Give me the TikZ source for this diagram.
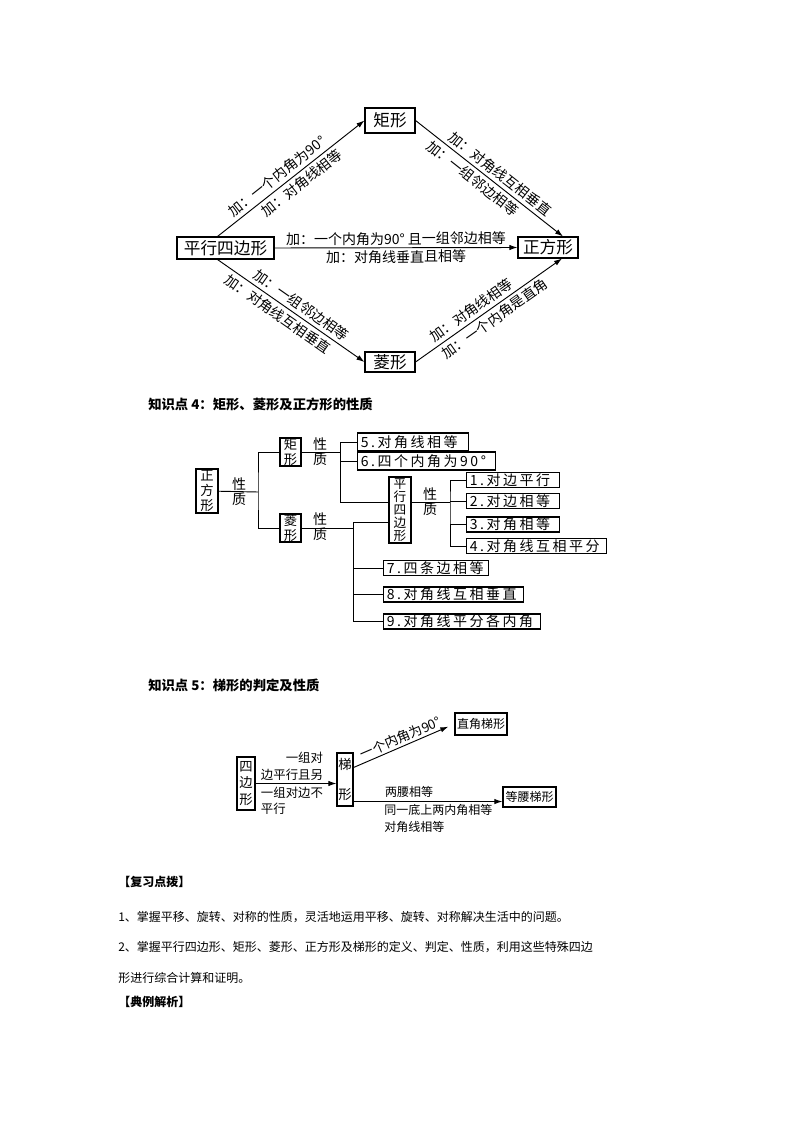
\documentclass[tikz,border=0pt]{standalone}
\usepackage{fontspec}
\setmainfont{Noto Sans CJK SC}
\newfontfamily\boxfont[LetterSpace=18]{Noto Sans CJK SC}
\usetikzlibrary{arrows.meta,calc,shadows}

\begin{document}
\begin{tikzpicture}[x=0.75pt, y=-0.75pt,
  arr/.style={-{Latex[length=6pt,width=4pt]}, line width=0.7pt},
  tree/.style={line width=0.7pt},
  frame/.style={draw, fill=white, line width=0.8pt, inner sep=0pt},
  topbox/.style={frame, font=\fontsize{12.5}{14}\selectfont},
  lbl/.style={font=\fontsize{10.5}{12}\selectfont, sloped, inner sep=2.5pt},
  shadowed/.style={drop shadow={shadow xshift=0.7pt, shadow yshift=-0.7pt, opacity=1, fill=black}},
  vbox/.style={frame, shadowed, align=center, font=\fontsize{10}{11}\selectfont},
  xz/.style={align=center, inner sep=0pt, font=\fontsize{10.5}{11.5}\selectfont},
  pbox/.style={frame, shadowed, anchor=west, align=left, inner xsep=2.5pt,
    font=\boxfont\fontsize{10.5}{11}\selectfont},
  title/.style={anchor=west, inner sep=0pt, font=\bfseries\fontsize{10}{12}\selectfont},
  body/.style={anchor=west, inner sep=0pt, font=\fontsize{9}{11}\selectfont}]

\useasboundingbox (0,0) rectangle (794,1123);

% ===== Part 1: from parallelogram to square =====
\node[topbox, minimum width=72.75pt, minimum height=16.5pt] (pq) at (225.5,248) {平行四边形};
\node[topbox, minimum width=37.5pt, minimum height=18.75pt] (jx) at (390,120.5) {矩形};
\node[topbox, minimum width=45pt, minimum height=15.75pt] (zf) at (548,247.5) {正方形};
\node[topbox, minimum width=37.5pt, minimum height=15pt] (lx) at (390,362) {菱形};

\draw[arr] ($(pq.north)+(-8,0)$) -- (jx.west)
  node[lbl, above, pos=0.45] {加：一个内角为90°}
  node[lbl, below, pos=0.53] {加：对角线相等};
\draw[arr] (jx.east) -- ($(zf.north)+(15,0)$)
  node[lbl, above, pos=0.53] {加：对角线互相垂直}
  node[lbl, below, pos=0.43] {加：一组邻边相等};
\draw[arr] (pq.east) -- (zf.west)
  node[lbl, above, pos=0.5, inner sep=1.5pt] {加：一个内角为90° 且一组邻边相等}
  node[lbl, below, pos=0.5, inner sep=1.5pt] {加：对角线垂直且相等};
\draw[arr] ($(pq.south)+(-8,0)$) -- (lx.west)
  node[lbl, above, pos=0.53] {加：一组邻边相等}
  node[lbl, below, pos=0.45] {加：对角线互相垂直};
\draw[arr] (lx.east) -- ($(zf.south)+(14,0)$)
  node[lbl, above, pos=0.42] {加：对角线相等}
  node[lbl, below, pos=0.5] {加：一个内角是直角};

% ===== Part 2: properties tree =====
\node[title] (t4) at (148,404) {知识点 4：矩形、菱形及正方形的性质};

\node[vbox, minimum width=16.5pt, minimum height=33pt] (sq) at (207,491) {正\\方\\形};
\node[vbox, minimum width=15.75pt, minimum height=21pt] (r2) at (290.5,452) {矩\\形};
\node[vbox, minimum width=15.75pt, minimum height=21pt] (l2) at (290.5,528) {菱\\形};
\node[vbox, font=\fontsize{9.5}{9.8}\selectfont, minimum width=16.5pt, minimum height=49.5pt]
  (pq2) at (400,510) {平\\行\\四\\边\\形};

\node[xz] (x1) at (239,492) {性\\质};
\node[xz] (x2) at (320,452) {性\\质};
\node[xz] (x3) at (320,527) {性\\质};
\node[xz] (x4) at (430,502) {性\\质};

\node[pbox, text width=78.25pt, minimum height=13.5pt] (b5) at (357,442) {5.对角线相等};
\node[pbox, text width=98.5pt, minimum height=13.5pt] (b6) at (357,461) {6.四个内角为90°};
\node[pbox, text width=64.75pt, minimum height=11.25pt] (b1) at (466,480) {1.对边平行};
\node[pbox, text width=64.75pt, minimum height=11.25pt] (b2) at (466,501) {2.对边相等};
\node[pbox, text width=64.75pt, minimum height=11.25pt] (b3) at (466,524.5) {3.对角相等};
\node[pbox, text width=100pt, minimum height=11.25pt] (b4) at (466,546) {4.对角线互相平分};
\node[pbox, text width=73.75pt, minimum height=11.25pt] (b7) at (383,568) {7.四条边相等};
\node[pbox, text width=100pt, minimum height=11.25pt] (b8) at (383,594.5) {8.对角线互相垂直};
\node[pbox, text width=112.75pt, minimum height=11.25pt] (b9) at (383,621.5) {9.对角线平分各内角};

\coordinate (ja) at (258,492);
\coordinate (jb) at (340,502);
\coordinate (jc) at (353,522);
\coordinate (jd) at (450,502);

\draw[tree] (sq) -- (ja);
\draw[tree] (r2.west) -| (ja) |- (l2.west);
\draw[tree] (r2) -- (r2 -| jb);
\draw[tree] (b5.west) -| (jb) -- (jb -| pq2.west);
\draw[tree] (b6.west) -- (b6.west -| jb);
\draw[tree] (l2) -- (l2 -| jc);
\draw[tree] (pq2.west |- jc) -- (jc) |- (b9.west);
\draw[tree] (b7.west) -- (b7.west -| jc);
\draw[tree] (b8.west) -- (b8.west -| jc);
\draw[tree] (pq2.east |- jd) -- (jd);
\draw[tree] (b1.west) -| (jd) |- (b4.west);
\draw[tree] (b2.west) -- (b2.west -| jd);
\draw[tree] (b3.west) -- (b3.west -| jd);

% ===== Part 3: trapezoid =====
\node[title] (t5) at (148,685) {知识点 5：梯形的判定及性质};

\node[vbox, font=\fontsize{10}{12.5}\selectfont, minimum width=13.5pt, minimum height=39.75pt]
  (qb) at (246,783.5) {四\\边\\形};
\node[frame, align=center, font=\fontsize{10}{22.5}\selectfont, minimum width=12pt, minimum height=39.75pt]
  (tx) at (345,779.5) {梯\\形};
\node[frame, shadowed, font=\fontsize{9}{11}\selectfont, minimum width=39pt, minimum height=16.5pt]
  (rt) at (481,724) {直角梯形};
\node[frame, shadowed, font=\fontsize{9}{11}\selectfont, minimum width=39.75pt, minimum height=15pt]
  (dy) at (529.5,797) {等腰梯形};

\draw[arr] (qb.east) -- (qb.east -| tx.west)
  node[above, pos=0.45, align=right, inner sep=2pt, font=\fontsize{9.3}{12.5}\selectfont] {一组对\\边平行且另}
  node[below, pos=0.45, align=left, inner sep=2pt, font=\fontsize{9.3}{12.5}\selectfont] {一组对边不\\平行};
\draw[arr, shorten >=5pt] ($(tx.east)+(0,-12)$) -- (rt.west)
  node[lbl, above, pos=0.5, inner sep=1.5pt, font=\fontsize{10}{12}\selectfont] {一个内角为90°};
\coordinate (tb) at ([yshift=3.75pt]tx.south east);
\draw[arr] (tb) -- (tb -| dy.west);
\node[anchor=south west, inner sep=2.5pt, font=\fontsize{9}{11}\selectfont] (la) at ($(tb)+(28,0)$) {两腰相等};
\node[anchor=north west, align=left, inner sep=2pt, font=\fontsize{9}{12.75}\selectfont] (lb) at ($(tb)+(28,0)$)
  {同一底上两内角相等\\对角线相等};

% ===== Part 4: review notes =====
\node[body, font=\bfseries\fontsize{9}{11}\selectfont] (h1) at (118,882) {【复习点拨】};
\node[body] (p1) at (118,917) {1、掌握平移、旋转、对称的性质，灵活地运用平移、旋转、对称解决生活中的问题。};
\node[body] (p2) at (118,947) {2、掌握平行四边形、矩形、菱形、正方形及梯形的定义、判定、性质，利用这些特殊四边};
\node[body] (p3) at (118,978) {形进行综合计算和证明。};
\node[body, font=\bfseries\fontsize{9}{11}\selectfont] (h2) at (118,1002) {【典例解析】};

\end{tikzpicture}
\end{document}
